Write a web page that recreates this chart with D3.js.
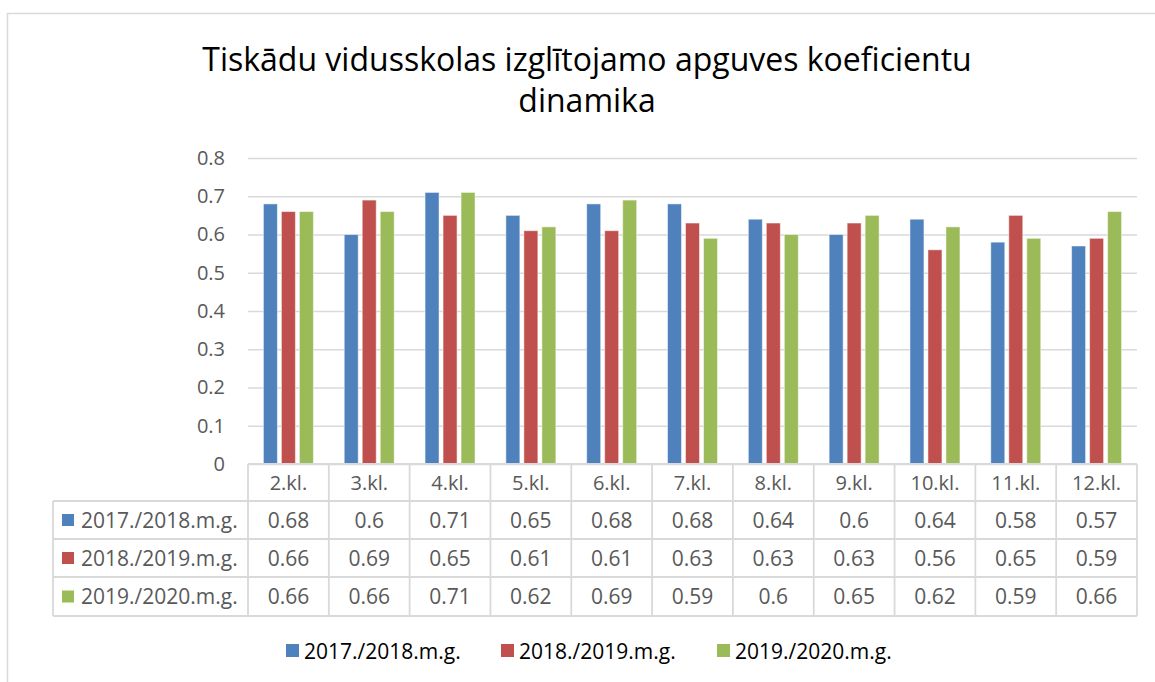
<!DOCTYPE html>
<html>
<head>
<meta charset="utf-8">
<script src="https://cdn.jsdelivr.net/npm/d3@7"></script>
<style>
  body { margin: 0; background: #fff; }
  svg { font-family: "Open Sans", sans-serif; }
</style>
</head>
<body>
<div class="container"></div>
<script>
// data
const categories = ["2.kl.", "3.kl.", "4.kl.", "5.kl.", "6.kl.", "7.kl.", "8.kl.", "9.kl.", "10.kl.", "11.kl.", "12.kl."];
const seriesNames = ["2017./2018.m.g.", "2018./2019.m.g.", "2019./2020.m.g."];
const values1718 = [0.68, 0.6, 0.71, 0.65, 0.68, 0.68, 0.64, 0.6, 0.64, 0.58, 0.57];
const values1819 = [0.66, 0.69, 0.65, 0.61, 0.61, 0.63, 0.63, 0.63, 0.56, 0.65, 0.59];
const values1920 = [0.66, 0.66, 0.71, 0.62, 0.69, 0.59, 0.6, 0.65, 0.62, 0.59, 0.66];
const yTicks = [0, 0.1, 0.2, 0.3, 0.4, 0.5, 0.6, 0.7, 0.8];
const colors = ["#4F81BD", "#C0504D", "#9BBB59"];

const seriesValues = [values1718, values1819, values1920];

const W = 1155, H = 682;
const plotLeft = 248, plotRight = 1137, plotTop = 158, plotBottom = 464;
const rowTops = [501, 539, 577, 616];
const tableLeft = 53;
const gridColor = "#d9d9d9";
const textGray = "#595959";

const svg = d3.select(".container")
  .append("svg")
  .attr("width", W)
  .attr("height", H);

//Outer chart border
svg.append("rect")
  .attr("x", 7.5)
  .attr("y", 13.5)
  .attr("width", 1170)
  .attr("height", 700)
  .attr("fill", "none")
  .attr("stroke", gridColor)
  .attr("stroke-width", 1.5);

//Title
const title = svg.append("text")
  .attr("text-anchor", "middle")
  .attr("fill", "#000")
  .style("font-size", "32px");
title.append("tspan").attr("x", 587).attr("y", 71).text("Tiskādu vidusskolas izglītojamo apguves koeficientu");
title.append("tspan").attr("x", 587).attr("y", 112).text("dinamika");

//Scales
const x = d3.scaleBand()
  .domain(categories)
  .range([plotLeft, plotRight]);

const bw = x.bandwidth();
const xInner = d3.scaleBand()
  .domain(seriesNames)
  .range([bw / 2 - 25, bw / 2 + 25])
  .paddingInner(0.2222);

const y = d3.scaleLinear()
  .domain([0, 0.8])
  .range([plotBottom, plotTop]);

//Y axis with gridlines
const yAxis = d3.axisLeft(y)
  .tickValues(yTicks)
  .tickSize(-(plotRight - plotLeft))
  .tickPadding(23)
  .tickFormat(d => d === 0 ? "0" : d3.format(".1f")(d));

const yAxisGroup = svg.append("g")
  .attr("transform", `translate(${plotLeft},0)`)
  .call(yAxis);
yAxisGroup.select(".domain").remove();
yAxisGroup.selectAll(".tick line")
  .attr("stroke", gridColor)
  .attr("stroke-width", 1.5);
yAxisGroup.selectAll(".tick text")
  .attr("fill", textGray)
  .style("font-size", "20px")
  .style("font-family", "'Open Sans', sans-serif");

//Bars
seriesNames.forEach((name, s) => {
  svg.append("g")
    .selectAll("rect")
    .data(seriesValues[s])
    .enter()
    .append("rect")
    .attr("x", (d, i) => x(categories[i]) + xInner(name))
    .attr("y", d => y(d))
    .attr("width", xInner.bandwidth())
    .attr("height", d => y(0) - y(d))
    .attr("fill", colors[s])
    .attr("stroke", "#ffffff")
    .attr("stroke-opacity", 0.5)
    .attr("stroke-width", 1);
});

//Data table lines
const table = svg.append("g")
  .attr("stroke", gridColor)
  .attr("stroke-width", 1.8)
  .attr("fill", "none");
table.append("line")
  .attr("x1", plotLeft).attr("x2", plotRight)
  .attr("y1", plotBottom).attr("y2", plotBottom);
rowTops.forEach(r => {
  table.append("line")
    .attr("x1", tableLeft).attr("x2", plotRight)
    .attr("y1", r).attr("y2", r);
});
categories.forEach(c => {
  table.append("line")
    .attr("x1", x(c)).attr("x2", x(c))
    .attr("y1", plotBottom).attr("y2", rowTops[3]);
});
table.append("line")
  .attr("x1", plotRight).attr("x2", plotRight)
  .attr("y1", plotBottom).attr("y2", rowTops[3]);
table.append("line")
  .attr("x1", tableLeft).attr("x2", tableLeft)
  .attr("y1", rowTops[0]).attr("y2", rowTops[3]);

//Category labels (header row)
svg.append("g")
  .selectAll("text")
  .data(categories)
  .enter()
  .append("text")
  .attr("x", d => x(d) + bw / 2)
  .attr("y", (plotBottom + rowTops[0]) / 2)
  .attr("dy", "0.36em")
  .attr("text-anchor", "middle")
  .attr("fill", textGray)
  .style("font-size", "20px")
  .text(d => d);

//Table rows
seriesNames.forEach((name, s) => {
  const cy = (rowTops[s] + rowTops[s + 1]) / 2;
  const row = svg.append("g");
  row.append("rect")
    .attr("x", 62)
    .attr("y", cy - 6)
    .attr("width", 12)
    .attr("height", 12)
    .attr("fill", colors[s]);
  row.append("text")
    .attr("x", 81)
    .attr("y", cy)
    .attr("dy", "0.36em")
    .attr("fill", textGray)
    .style("font-size", "21px")
    .text(name);
  row.selectAll("text.val")
    .data(seriesValues[s])
    .enter()
    .append("text")
    .attr("class", "val")
    .attr("x", (d, i) => x(categories[i]) + bw / 2)
    .attr("y", cy)
    .attr("dy", "0.36em")
    .attr("text-anchor", "middle")
    .attr("fill", textGray)
    .style("font-size", "21px")
    .text(d => d);
});

//Legend
const legendX = [286, 501, 717];
const legend = svg.append("g");
seriesNames.forEach((name, s) => {
  legend.append("rect")
    .attr("x", legendX[s])
    .attr("y", 644)
    .attr("width", 13)
    .attr("height", 13)
    .attr("fill", colors[s]);
  legend.append("text")
    .attr("x", legendX[s] + 18)
    .attr("y", 651)
    .attr("dy", "0.36em")
    .attr("fill", "#000")
    .style("font-size", "21px")
    .text(name);
});
</script>
</body>
</html>
